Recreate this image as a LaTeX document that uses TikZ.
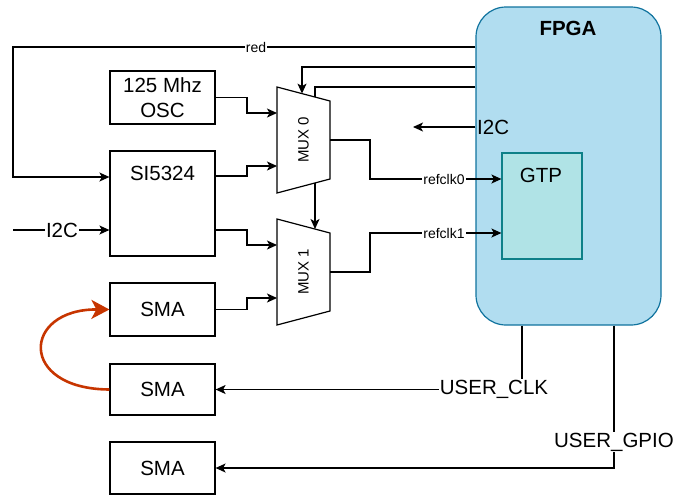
\documentclass[tikz,border=0pt]{standalone}
\usepackage{fontspec}
\setmainfont{Liberation Sans}
\usetikzlibrary{arrows.meta}
\definecolor{fpgafill}{HTML}{B1DDF0}
\definecolor{fpgaline}{HTML}{10739E}
\definecolor{gtpfill}{HTML}{B0E3E6}
\definecolor{gtpline}{HTML}{0E8088}
\definecolor{loopred}{HTML}{C73500}

\begin{document}
\begin{tikzpicture}[x=1pt,y=-1pt,
    box/.style={draw,line width=1.2pt,minimum width=105pt,minimum height=53pt,inner sep=0pt},
    big/.style={font=\fontsize{20.5}{25}\selectfont,inner sep=1pt},
    small/.style={font=\fontsize{14}{16}\selectfont,fill=white,inner sep=1pt},
    muxlbl/.style={font=\fontsize{15}{17}\selectfont,rotate=90},
    wire/.style={line width=1.2pt},
    arr/.style={wire,-{Stealth[length=10pt,width=9pt,inset=2.5pt]}}]
    \useasboundingbox (0,0) rectangle (675,496);

    % fpga and gtp
    \node[draw=fpgaline,fill=fpgafill,line width=1.2pt,rounded corners=30pt,
          minimum width=185pt,minimum height=318pt] (fpga) at (568.5,166) {};
    \node[font=\fontsize{20.5}{25}\selectfont\bfseries] (fpgalbl) at (568,28) {FPGA};
    \node[draw=gtpline,fill=gtpfill,line width=1.2pt,
          minimum width=80pt,minimum height=106pt] (gtp) at (542,206) {};
    \node[big] (gtplbl) at (541,175) {GTP};

    % boxes on the left
    \node[box,big,align=center] (osc) at (162.5,97.5) {125 Mhz\\OSC};
    \node[box,minimum height=105pt] (si) at (162.5,203.5) {};
    \node[big] (silbl) at (162.5,173) {SI5324};
    \node[box,big] (sma1) at (162.5,309.5) {SMA};
    \node[box,big,minimum height=51pt] (sma2) at (162.5,389.5) {SMA};
    \node[box,big,minimum height=52pt] (sma3) at (162.5,468) {SMA};

    % muxes
    \draw[line width=1.2pt] (277,87) -- (330,101) -- (330,179) -- (277,193) -- cycle;
    \draw[line width=1.2pt] (277,219) -- (330,233) -- (330,311) -- (277,325) -- cycle;
    \node[muxlbl] (mux0) at (303.5,140) {MUX 0};
    \node[muxlbl] (mux1) at (303.5,272) {MUX 1};
    \coordinate (m0sel) at (302,93.6);
    \coordinate (m0en) at (315,97);
    \coordinate (m0out) at (315,183);
    \coordinate (m1in) at (315,229);

    % control lines from the fpga
    \draw[arr] (fpga.west |- 0,47) -| (13,177) -- (si.west |- 0,177);
    \node[small] (redlbl) at (256,47) {red};
    \draw[arr] (fpga.west |- 0,67) -| (m0sel);
    \draw[wire] (fpga.west |- 0,87) -| (m0en);
    \draw[arr] (fpga.west |- 0,127) -- (413,127);
    \node[big,anchor=west] (i2cfpga) at (476,127) {I2C};

    % clock inputs
    \draw[arr] (osc.east) -- (247,97.5) |- (277,113);
    \draw[arr] (si.east |- 0,176) -- (247,176) |- (277,166);
    \draw[arr] (si.east |- 0,230) -- (247,230) |- (277,245);
    \draw[arr] (sma1.east) -- (247,309.5) |- (277,298);
    \draw[arr] (m0out) -- (m1in);
    \draw[arr] (13,230) -- (si.west |- 0,230);
    \node[small,font=\fontsize{20.5}{25}\selectfont] (i2cin) at (62,230) {I2C};

    % reference clocks
    \draw[arr] (330,140) -- (370,140) -- (370,179) -- (gtp.west |- 0,179);
    \node[small] (ref0) at (444,179) {refclk0};
    \draw[arr] (330,272) -- (370,272) -- (370,233) -- (gtp.west |- 0,233);
    \node[small] (ref1) at (444,233) {refclk1};

    % user outputs
    \draw[arr] (fpga.south -| 522,0) |- (sma2.east);
    \node[small,font=\fontsize{20.5}{25}\selectfont] (uclk) at (494,389) {USER\_CLK};
    \draw[arr] (fpga.south -| 614,0) |- (sma3.east);
    \node[small,font=\fontsize{20.5}{25}\selectfont] (ugpio) at (614,442) {USER\_GPIO};

    % loopback
    \draw[loopred,line width=2.6pt,-{Stealth[length=18pt,width=19pt,inset=5pt]}]
        (sma2.west) .. controls (18,389) and (22,309) .. (sma1.west);
\end{tikzpicture}
\end{document}
